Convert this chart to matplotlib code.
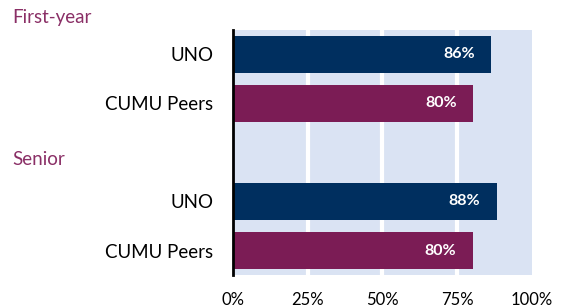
import numpy as np
import matplotlib.pyplot as plt

plt.rcParams['font.family'] = ['Lato', 'DejaVu Sans']

# data
groups = ["First-year", "Senior"]
rows = ["UNO", "CUMU Peers", "", "UNO", "CUMU Peers"]
uno = [86.4, 88.3]
peers = [80.4, 80.2]
navy = "#002F5F"
maroon = "#7B1C55"

fig = plt.figure(figsize=(5.64, 3.08), dpi=100)
ax = fig.add_axes([0.413, 0.107, 0.530, 0.796])
ax.set_facecolor("#DAE3F3")

vals = [uno[0], peers[0], 0, uno[1], peers[1]]
cols = [navy, maroon, "none", navy, maroon]
y = np.arange(len(rows))
bars = ax.barh(y, vals, height=0.77, color=cols, zorder=3)

for i, v in enumerate(vals):
    if v == 0:
        continue
    ax.annotate(f"{v:.0f}%", (v, i), xytext=(-12, 0), textcoords="offset points",
                ha="right", va="center", color="white", fontsize=11.5, fontweight="bold", zorder=4)

ax.set_xlim(0, 100)
ax.set_ylim(4.5, -0.5)
ax.set_xticks([0, 25, 50, 75, 100])
ax.set_xticklabels(["0%", "25%", "50%", "75%", "100%"], fontsize=12)
ax.set_yticks(y)
ax.set_yticklabels(rows, fontsize=13.5)
ax.tick_params(length=0, axis="y", pad=14)
ax.tick_params(length=0, axis="x", pad=12)
for x in [25, 50, 75]:
    ax.axvline(x, color="white", lw=3, zorder=2)
for s in ["top", "right", "bottom"]:
    ax.spines[s].set_visible(False)
ax.spines["left"].set_linewidth(2)
ax.spines["left"].set_zorder(5)

fig.text(12 / 564, 1 - 18 / 308, groups[0], color="#8A2F66", fontsize=13.5, va="center", ha="left")
fig.text(12 / 564, 1 - 160 / 308, groups[1], color="#8A2F66", fontsize=13.5, va="center", ha="left")

fig.savefig("out.png", dpi=100)
